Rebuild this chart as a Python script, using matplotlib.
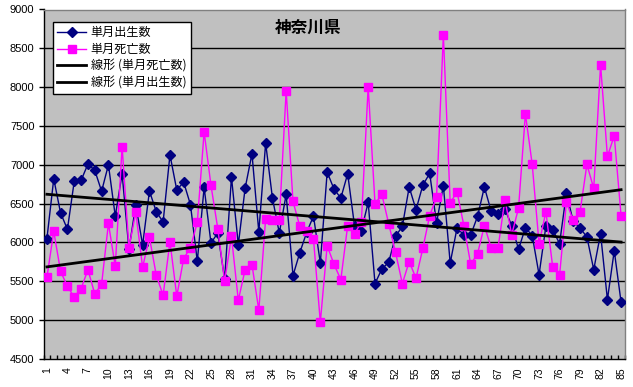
import numpy as np
import matplotlib
matplotlib.use("Agg")
import matplotlib.pyplot as plt
from matplotlib.ticker import FixedLocator, NullFormatter

plt.rcParams['font.family'] = ['Liberation Sans', 'Noto Sans CJK JP', 'DejaVu Sans']

title = "神奈川県"
label_births = "単月出生数"
label_deaths = "単月死亡数"
label_trend_deaths = "線形 (単月死亡数)"
label_trend_births = "線形 (単月出生数)"

months = list(range(1, 86))

births = [6050, 6820, 6380, 6170, 6790, 6800, 7010, 6930, 6660, 7000,
          6340, 6885, 5910, 6487, 5968, 6663, 6396, 6264, 7129, 6675,
          6778, 6487, 5758, 6709, 5994, 6123, 5530, 6842, 5972, 6701,
          7142, 6135, 7280, 6568, 6123, 6619, 5574, 5870, 6130, 6340,
          5736, 6906, 6688, 6572, 6885, 6217, 6152, 6516, 5471, 5659,
          5745, 6079, 6208, 6714, 6422, 6739, 6890, 6251, 6731, 5736,
          6187, 6097, 6097, 6336, 6714, 6401, 6367, 6431, 6217, 5912,
          6190, 6090, 5586, 6210, 6165, 5985, 6636, 6272, 6187, 6071,
          5651, 6114, 5265, 5895, 5231]

deaths = [5552, 6143, 5629, 5436, 5295, 5406, 5651, 5338, 5462, 6246,
          5693, 7236, 5934, 6388, 5681, 6066, 5578, 5321, 6011, 5308,
          5792, 5934, 6259, 7425, 6737, 6178, 5500, 6079, 5256, 5651,
          5715, 5128, 6306, 6294, 6285, 7956, 6529, 6208, 6150, 6045,
          4974, 5959, 5719, 5522, 6217, 6114, 6259, 8008, 6499, 6619,
          6242, 5873, 5471, 5754, 5539, 5927, 6347, 6581, 8676, 6508,
          6654, 6217, 5719, 5856, 6217, 5930, 5930, 6551, 6101, 6444,
          7656, 7005, 5985, 6396, 5681, 5578, 6516, 6285, 6396, 7005,
          6696, 8290, 7108, 7374, 6345]

yticks = [4500, 5000, 5500, 6000, 6500, 7000, 7500, 8000, 8500, 9000]
xtick_labels = list(range(1, 86, 3))

x = np.array(months, dtype=float)
b = np.array(births, dtype=float)
d = np.array(deaths, dtype=float)

fig = plt.figure(figsize=(6.33, 3.87), dpi=100)
ax = fig.add_axes([43.5/633, 1-359/387, 581/633, 349.5/387])
ax.set_facecolor('#C0C0C0')

for yv in yticks[1:-1]:
    ax.axhline(yv, color='black', lw=1.0, zorder=1)

ax.plot(x, b, color='#000080', lw=1.0, marker='D', ms=4.8, mfc='#000080',
        mec='#000080', label=label_births, zorder=3)
ax.plot(x, d, color='#FF00FF', lw=1.0, marker='s', ms=5.8, mfc='#FF00FF',
        mec='#FF00FF', label=label_deaths, zorder=4)

pd_ = np.polyfit(x, d, 1)
pb_ = np.polyfit(x, b, 1)
ax.plot(x, np.polyval(pd_, x), color='black', lw=2.0, label=label_trend_deaths, zorder=5)
ax.plot(x, np.polyval(pb_, x), color='black', lw=2.0, label=label_trend_births, zorder=5)

ax.set_xlim(0.5, 85.5)
ax.set_ylim(4500, 9000)
ax.set_yticks(yticks)
ax.set_yticklabels([str(v) for v in yticks], fontsize=8)
ax.tick_params(axis='y', direction='out', length=3.5, width=1, pad=3)

ax.xaxis.set_major_locator(FixedLocator(xtick_labels))
ax.set_xticklabels([str(v) for v in xtick_labels], rotation=90, fontsize=7.5)
ax.tick_params(axis='x', which='major', length=0, pad=6)
ax.xaxis.set_minor_locator(FixedLocator(np.arange(0.5, 86, 1.0)))
ax.xaxis.set_minor_formatter(NullFormatter())
ax.tick_params(axis='x', which='minor', direction='in', length=3, width=1)

ax.spines['left'].set_color('black')
ax.spines['bottom'].set_color('black')
ax.spines['top'].set_color('#808080')
ax.spines['right'].set_color('#808080')
for s in ax.spines.values():
    s.set_linewidth(1.0)

ax.text(0.455, 0.947, title, transform=ax.transAxes, ha='center', va='center',
        fontsize=12, fontweight='bold', family=['Noto Sans CJK JP'], zorder=6)

leg = ax.legend(loc='upper left', bbox_to_anchor=(0.016, 0.965), borderaxespad=0,
                fancybox=False, framealpha=1, edgecolor='black', facecolor='white',
                prop={'family': ['Noto Sans CJK JP'], 'size': 8.7},
                handlelength=2.4, labelspacing=0.32, borderpad=0.35, handletextpad=0.4)
leg.get_frame().set_linewidth(1.0)
leg.set_zorder(7)

fig.savefig('out.png', dpi=100, facecolor='white')
